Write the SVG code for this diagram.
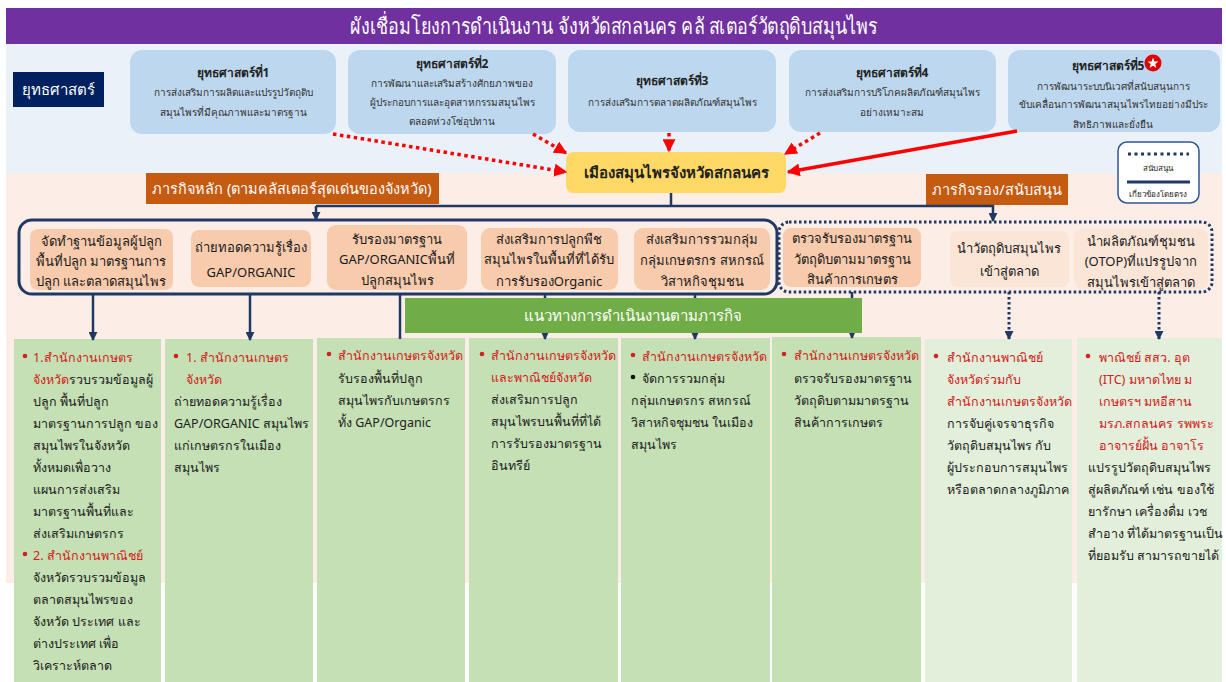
<svg xmlns="http://www.w3.org/2000/svg" width="1226" height="682" viewBox="0 0 1226 682">
<style>
text{font-family:"Noto Sans","DejaVu Sans","Liberation Sans",sans-serif;}
.title{font-size:22px;fill:#fff;}
.stt{font-size:12px;font-weight:bold;fill:#222;}
.std{font-size:10px;fill:#333;}
.strat{fill:#BDD7EE;}
.hdr{fill:#C55A11;}
.hdrt{font-size:14.5px;fill:#fff;}
.pk{fill:#F8CBAD;}
.pk2{fill:#FBE5D6;}
.pkt{font-size:13px;fill:#1a1a1a;}
.col{fill:#C5E0B4;}
.col2{fill:#E2EFDA;}
.ct{font-size:12.5px;fill:#222;}
.cr{font-size:12.5px;fill:#D42020;}
.nv{stroke:#1F3864;stroke-width:2.5;fill:none;}
.nvd{stroke:#1F3864;stroke-width:3;fill:none;stroke-dasharray:2.5 2.5;}
.rd{stroke:#FF0000;stroke-width:3.5;fill:none;stroke-dasharray:3.5 3.5;}
.rs{stroke:#FF0000;stroke-width:3.5;fill:none;}
</style>
<defs>
<marker id="ra" viewBox="0 0 10 10" refX="9" refY="5" markerUnits="userSpaceOnUse" markerWidth="13" markerHeight="13" orient="auto"><path d="M0,0 L10,5 L0,10 z" fill="#FF0000"/></marker>
<marker id="na" viewBox="0 0 10 10" refX="9" refY="5" markerUnits="userSpaceOnUse" markerWidth="9" markerHeight="9" orient="auto"><path d="M0,0 L10,5 L0,10 z" fill="#1F3864"/></marker>
</defs>

<!-- backgrounds -->
<rect x="0" y="0" width="1226" height="682" fill="#fff"/>
<rect x="6" y="44" width="1216" height="129" fill="#EAF1F9"/>
<rect x="6" y="173" width="1216" height="410" fill="#FCEEE6"/>

<g id="title">
<rect x="6" y="8" width="1216" height="36" fill="#7030A0"/>
<text class="title" x="614" y="34" text-anchor="middle" textLength="528" lengthAdjust="spacingAndGlyphs">ผังเชื่อมโยงการดำเนินงาน จังหวัดสกลนคร คลั สเตอร์วัตถุดิบสมุนไพร</text>
</g>

<g id="strategy-label">
<rect x="13" y="72" width="91" height="35" fill="#002060"/>
<text x="58" y="95" text-anchor="middle" style="font-size:15px;fill:#fff">ยุทธศาสตร์</text>
</g>

<g id="s1">
<rect class="strat" x="130" y="50" width="206" height="84" rx="12"/>
<text class="stt" x="233" y="77" text-anchor="middle">ยุทธศาสตร์ที่1</text>
<text class="std" x="233" y="96" text-anchor="middle">การส่งเสริมการผลิตและแปรรูปวัตถุดิบ</text>
<text class="std" x="233" y="116" text-anchor="middle">สมุนไพรที่มีคุณภาพและมาตรฐาน</text>
</g>
<g id="s2">
<rect class="strat" x="348" y="50" width="208" height="84" rx="12"/>
<text class="stt" x="452" y="68" text-anchor="middle">ยุทธศาสตร์ที่2</text>
<text class="std" x="452" y="87" text-anchor="middle">การพัฒนาและเสริมสร้างศักยภาพของ</text>
<text class="std" x="452" y="106" text-anchor="middle">ผู้ประกอบการและอุตสาหกรรมสมุนไพร</text>
<text class="std" x="452" y="125" text-anchor="middle">ตลอดห่วงโซ่อุปทาน</text>
</g>
<g id="s3">
<rect class="strat" x="568" y="50" width="208" height="82" rx="12"/>
<text class="stt" x="672" y="85" text-anchor="middle">ยุทธศาสตร์ที่3</text>
<text class="std" x="672" y="106" text-anchor="middle">การส่งเสริมการตลาดผลิตภัณฑ์สมุนไพร</text>
</g>
<g id="s4">
<rect class="strat" x="789" y="50" width="207" height="82" rx="12"/>
<text class="stt" x="892" y="77" text-anchor="middle">ยุทธศาสตร์ที่4</text>
<text class="std" x="892" y="96" text-anchor="middle">การส่งเสริมการบริโภคผลิตภัณฑ์สมุนไพร</text>
<text class="std" x="892" y="116" text-anchor="middle">อย่างเหมาะสม</text>
</g>
<g id="s5">
<rect class="strat" x="1008" y="50" width="212" height="82" rx="12"/>
<text class="stt" x="1108" y="70" text-anchor="middle">ยุทธศาสตร์ที่5</text>
<circle cx="1153" cy="63" r="8.5" fill="#E00000"/>
<path d="M1153,57.5 L1154.4,61.4 L1158.5,61.5 L1155.3,64 L1156.4,68 L1153,65.7 L1149.6,68 L1150.7,64 L1147.5,61.5 L1151.6,61.4 z" fill="#fff"/>
<text class="std" x="1113" y="90" text-anchor="middle">การพัฒนาระบบนิเวศที่สนับสนุนการ</text>
<text class="std" x="1113" y="108" text-anchor="middle">ขับเคลื่อนการพัฒนาสมุนไพรไทยอย่างมีประ</text>
<text class="std" x="1113" y="128" text-anchor="middle">สิทธิภาพและยั่งยืน</text>
</g>

<g id="hub">
<rect x="566" y="152" width="220" height="41" rx="7" fill="#FFD966"/>
<text x="676" y="178" text-anchor="middle" style="font-size:15px;font-weight:bold;fill:#222">เมืองสมุนไพรจังหวัดสกลนคร</text>
</g>

<g id="legend">
<rect x="1118" y="142" width="81" height="61" rx="9" fill="#fff" stroke="#2F5597" stroke-width="1.5"/>
<line x1="1128" y1="154" x2="1189" y2="154" stroke="#1F3864" stroke-width="3" stroke-dasharray="3 3.5"/>
<text x="1158" y="171" text-anchor="middle" style="font-size:8px;fill:#222">สนับสนุน</text>
<line x1="1127" y1="182" x2="1190" y2="182" stroke="#1F3864" stroke-width="3"/>
<text x="1158" y="197" text-anchor="middle" style="font-size:8px;fill:#222">เกี่ยวข้องโดยตรง</text>
</g>

<g id="main-header">
<rect class="hdr" x="146" y="173" width="293" height="31"/>
<text class="hdrt" x="292" y="194" text-anchor="middle">ภารกิจหลัก (ตามคลัสเตอร์สุดเด่นของจังหวัด)</text>
</g>
<g id="support-header">
<rect class="hdr" x="926" y="174" width="142" height="31"/>
<text class="hdrt" x="997" y="195" text-anchor="middle">ภารกิจรอง/สนับสนุน</text>
</g>

<!-- columns -->
<g id="c1">
<rect class="col" x="14" y="339" width="147" height="343"/>
<circle cx="25" cy="356" r="2.3" fill="#D42020"/>
<text class="cr" x="33" y="362">1.สำนักงานเกษตร</text>
<text x="33" y="384" class="ct"><tspan fill="#D42020">จังหวัด</tspan>รวบรวมข้อมูลผู้</text>
<text class="ct" x="33" y="406">ปลูก พื้นที่ปลูก</text>
<text class="ct" x="33" y="428">มาตรฐานการปลูก ของ</text>
<text class="ct" x="33" y="450">สมุนไพรในจังหวัด</text>
<text class="ct" x="33" y="472">ทั้งหมดเพื่อวาง</text>
<text class="ct" x="33" y="494">แผนการส่งเสริม</text>
<text class="ct" x="33" y="516">มาตรฐานพื้นที่และ</text>
<text class="ct" x="33" y="538">ส่งเสริมเกษตรกร</text>
<circle cx="25" cy="554" r="2.3" fill="#D42020"/>
<text class="cr" x="33" y="560">2. สำนักงานพาณิชย์</text>
<text class="ct" x="33" y="582">จังหวัดรวบรวมข้อมูล</text>
<text class="ct" x="33" y="604">ตลาดสมุนไพรของ</text>
<text class="ct" x="33" y="626">จังหวัด ประเทศ และ</text>
<text class="ct" x="33" y="648">ต่างประเทศ เพื่อ</text>
<text class="ct" x="33" y="670">วิเคราะห์ตลาด</text>
</g>
<g id="c2">
<rect class="col" x="165" y="339" width="148" height="343"/>
<circle cx="176" cy="356" r="2.3" fill="#D42020"/>
<text class="cr" x="186" y="362">1. สำนักงานเกษตร</text>
<text class="cr" x="186" y="384">จังหวัด</text>
<text class="ct" x="174" y="406">ถ่ายทอดความรู้เรื่อง</text>
<text class="ct" x="174" y="428">GAP/ORGANIC สมุนไพร</text>
<text class="ct" x="174" y="450">แก่เกษตรกรในเมือง</text>
<text class="ct" x="174" y="472">สมุนไพร</text>
</g>
<g id="c3">
<rect class="col" x="317" y="338" width="148" height="344"/>
<circle cx="329" cy="354" r="2.3" fill="#D42020"/>
<text class="cr" x="338" y="360">สำนักงานเกษตรจังหวัด</text>
<text class="ct" x="338" y="383">รับรองพื้นที่ปลูก</text>
<text class="ct" x="338" y="405">สมุนไพรกับเกษตรกร</text>
<text class="ct" x="338" y="427">ทั้ง GAP/Organic</text>
</g>
<g id="c4">
<rect class="col" x="469" y="338" width="149" height="344"/>
<circle cx="482" cy="354" r="2.3" fill="#D42020"/>
<text class="cr" x="491" y="360">สำนักงานเกษตรจังหวัด</text>
<text class="cr" x="491" y="382">และพาณิชย์จังหวัด</text>
<text class="ct" x="491" y="404">ส่งเสริมการปลูก</text>
<text class="ct" x="491" y="426">สมุนไพรบนพื้นที่ที่ได้</text>
<text class="ct" x="491" y="448">การรับรองมาตรฐาน</text>
<text class="ct" x="491" y="470">อินทรีย์</text>
</g>
<g id="c5">
<rect class="col" x="621" y="338" width="149" height="344"/>
<circle cx="633" cy="355" r="2.3" fill="#D42020"/>
<text class="cr" x="642" y="361">สำนักงานเกษตรจังหวัด</text>
<circle cx="633" cy="377" r="2.3" fill="#111"/>
<text class="ct" x="642" y="383">จัดการรวมกลุ่ม</text>
<text class="ct" x="631" y="405">กลุ่มเกษตรกร สหกรณ์</text>
<text class="ct" x="631" y="427">วิสาหกิจชุมชน ในเมือง</text>
<text class="ct" x="631" y="449">สมุนไพร</text>
</g>
<g id="c6">
<rect class="col" x="772" y="337" width="149" height="345"/>
<circle cx="784" cy="354" r="2.3" fill="#D42020"/>
<text class="cr" x="794" y="360">สำนักงานเกษตรจังหวัด</text>
<text class="ct" x="794" y="383">ตรวจรับรองมาตรฐาน</text>
<text class="ct" x="794" y="405">วัตถุดิบตามมาตรฐาน</text>
<text class="ct" x="794" y="427">สินค้าการเกษตร</text>
</g>
<g id="c7">
<rect class="col2" x="925" y="339" width="147" height="343"/>
<circle cx="936" cy="356" r="2.3" fill="#D42020"/>
<text class="cr" x="947" y="362">สำนักงานพาณิชย์</text>
<text class="cr" x="947" y="384">จังหวัดร่วมกับ</text>
<text class="cr" x="947" y="406">สำนักงานเกษตรจังหวัด</text>
<text class="ct" x="947" y="428">การจับคู่เจรจาธุรกิจ</text>
<text class="ct" x="947" y="450">วัตถุดิบสมุนไพร กับ</text>
<text class="ct" x="947" y="472">ผู้ประกอบการสมุนไพร</text>
<text class="ct" x="947" y="494">หรือตลาดกลางภูมิภาค</text>
</g>
<g id="c8">
<rect class="col2" x="1077" y="338" width="145" height="344"/>
<circle cx="1088" cy="356" r="2.3" fill="#D42020"/>
<text class="cr" x="1099" y="362">พาณิชย์ สสว. อุต</text>
<text class="cr" x="1099" y="384">(ITC) มหาดไทย ม</text>
<text class="cr" x="1099" y="406">เกษตรฯ มหอีสาน</text>
<text class="cr" x="1099" y="428">มรภ.สกลนคร รพพระ</text>
<text class="cr" x="1099" y="450">อาจารย์ฝั้น อาจาโร</text>
<text class="ct" x="1088" y="472">แปรรูปวัตถุดิบสมุนไพร</text>
<text class="ct" x="1088" y="494">สู่ผลิตภัณฑ์ เช่น ของใช้</text>
<text class="ct" x="1088" y="516">ยารักษา เครื่องดื่ม เวช</text>
<text class="ct" x="1088" y="538">สำอาง ที่ได้มาตรฐานเป็น</text>
<text class="ct" x="1088" y="560">ที่ยอมรับ สามารถขายได้</text>
</g>

<g id="connectors">
<line class="rd" x1="333" y1="134" x2="566" y2="172" marker-end="url(#ra)"/>
<line class="rd" x1="533" y1="134" x2="566" y2="153" marker-end="url(#ra)"/>
<line class="rd" x1="669" y1="133" x2="669" y2="151" marker-end="url(#ra)"/>
<line class="rd" x1="820" y1="133" x2="785" y2="154" marker-end="url(#ra)"/>
<line class="rs" x1="1017" y1="131" x2="788" y2="172" marker-end="url(#ra)"/>
<polyline class="nv" points="671,193 671,206"/>
<polyline class="nv" points="316,206 993,206 993,221" marker-end="url(#na)"/>
<line class="nv" x1="316" y1="206" x2="316" y2="220" marker-end="url(#na)"/>
<line class="nv" x1="93" y1="294" x2="93" y2="340" marker-end="url(#na)"/>
<line class="nv" x1="250" y1="294" x2="250" y2="340" marker-end="url(#na)"/>
<line class="nv" x1="400" y1="294" x2="400" y2="339"/>
<line class="nv" x1="545" y1="294" x2="545" y2="339" marker-end="url(#na)"/>
<line class="nv" x1="695" y1="294" x2="695" y2="339" marker-end="url(#na)"/>
<line class="nv" x1="852" y1="292" x2="852" y2="338" marker-end="url(#na)"/>
<line class="nvd" x1="1009" y1="292" x2="1009" y2="339" marker-end="url(#na)"/>
<line class="nvd" x1="1159" y1="292" x2="1159" y2="339" marker-end="url(#na)"/>
</g>

<g id="guideline-header">
<rect x="405" y="298" width="457" height="35" fill="#70AD47"/>
<text x="633" y="321" text-anchor="middle" style="font-size:15px;fill:#fff">แนวทางการดำเนินงานตามภารกิจ</text>
</g>

<g id="main-missions">
<rect x="19" y="220" width="758" height="74" rx="13" fill="none" stroke="#1F3864" stroke-width="3"/>
</g>
<g id="m1">
<rect class="pk" x="30" y="229" width="143" height="61" rx="8"/>
<text class="pkt" x="101" y="246" text-anchor="middle">จัดทำฐานข้อมูลผู้ปลูก</text>
<text class="pkt" x="101" y="266" text-anchor="middle">พื้นที่ปลูก มาตรฐานการ</text>
<text class="pkt" x="101" y="286" text-anchor="middle">ปลูก และตลาดสมุนไพร</text>
</g>
<g id="m2">
<rect class="pk" x="191" y="230" width="120" height="57" rx="8"/>
<text class="pkt" x="251" y="252" text-anchor="middle">ถ่ายทอดความรู้เรื่อง</text>
<text class="pkt" x="251" y="277" text-anchor="middle">GAP/ORGANIC</text>
</g>
<g id="m3">
<rect class="pk" x="327" y="225" width="140" height="65" rx="9"/>
<text class="pkt" x="397" y="244" text-anchor="middle">รับรองมาตรฐาน</text>
<text class="pkt" x="397" y="264" text-anchor="middle">GAP/ORGANICพื้นที่</text>
<text class="pkt" x="397" y="285" text-anchor="middle">ปลูกสมุนไพร</text>
</g>
<g id="m4">
<rect class="pk" x="481" y="228" width="137" height="62" rx="9"/>
<text class="pkt" x="549" y="244" text-anchor="middle">ส่งเสริมการปลูกพืช</text>
<text class="pkt" x="549" y="264" text-anchor="middle">สมุนไพรในพื้นที่ที่ได้รับ</text>
<text class="pkt" x="549" y="286" text-anchor="middle">การรับรองOrganic</text>
</g>
<g id="m5">
<rect class="pk" x="634" y="228" width="136" height="62" rx="9"/>
<text class="pkt" x="702" y="244" text-anchor="middle">ส่งเสริมการรวมกลุ่ม</text>
<text class="pkt" x="702" y="265" text-anchor="middle">กลุ่มเกษตรกร สหกรณ์</text>
<text class="pkt" x="702" y="286" text-anchor="middle">วิสาหกิจชุมชน</text>
</g>

<g id="support-missions">
<rect x="779" y="222" width="433" height="70" rx="10" fill="none" stroke="#1F3864" stroke-width="3" stroke-dasharray="2.5 2.5"/>
</g>
<g id="m6">
<rect class="pk" x="783" y="228" width="138" height="59" rx="8"/>
<text class="pkt" x="852" y="243" text-anchor="middle">ตรวจรับรองมาตรฐาน</text>
<text class="pkt" x="852" y="264" text-anchor="middle">วัตถุดิบตามมาตรฐาน</text>
<text class="pkt" x="852" y="284" text-anchor="middle">สินค้าการเกษตร</text>
</g>
<g id="m7">
<rect class="pk2" x="950" y="231" width="119" height="56" rx="8"/>
<text class="pkt" x="1009" y="253" text-anchor="middle">นำวัตถุดิบสมุนไพร</text>
<text class="pkt" x="1009" y="276" text-anchor="middle">เข้าสู่ตลาด</text>
</g>
<g id="m8">
<rect class="pk2" x="1074" y="229" width="134" height="60" rx="8"/>
<text class="pkt" x="1141" y="246" text-anchor="middle">นำผลิตภัณฑ์ชุมชน</text>
<text class="pkt" x="1141" y="266" text-anchor="middle">(OTOP)ที่แปรรูปจาก</text>
<text class="pkt" x="1141" y="287" text-anchor="middle">สมุนไพรเข้าสู่ตลาด</text>
</g>
</svg>
